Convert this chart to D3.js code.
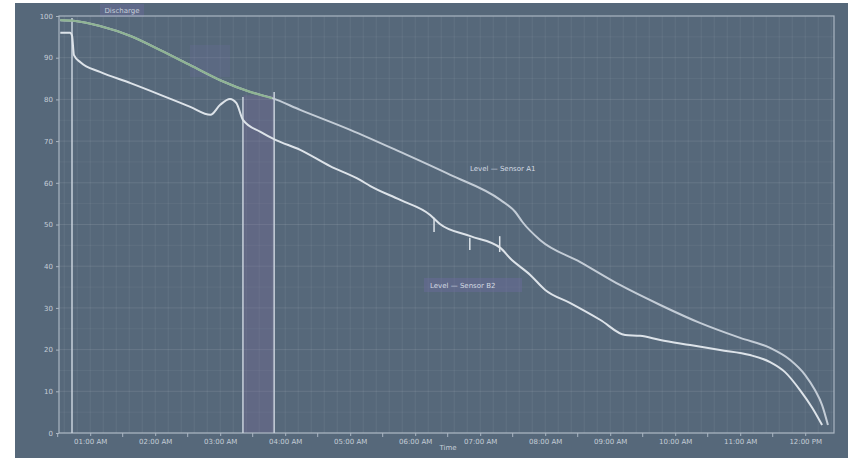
<!DOCTYPE html>
<html>
<head>
<meta charset="UTF-8" />
<script src="https://cdn.jsdelivr.net/npm/d3@7"></script>
<style>
  body { margin: 0; background: #fff; }
  text { font-family: "DejaVu Sans", sans-serif; }
</style>
</head>
<body>
<script>
    // time in hours, value in %
    let upperT = [0.54, 0.77, 1.15, 1.62, 2.08, 2.54, 3.00, 3.46, 3.80, 4.23, 5.00, 5.77, 6.54, 7.31, 7.54, 7.65, 7.92, 8.54, 9.15, 9.77, 10.38, 11.00, 11.46, 11.77, 12.00, 12.15, 12.26, 12.35];
    let upperV = [99.0, 98.8, 97.6, 95.2, 91.8, 88.2, 84.6, 81.8, 80.3, 77.5, 72.7, 67.4, 61.9, 55.9, 53.0, 50.6, 46.3, 41.0, 35.5, 30.7, 26.4, 22.8, 20.4, 17.5, 13.9, 10.3, 6.7, 1.9];
    let greenT = [0.54, 0.77, 1.15, 1.62, 2.08, 2.54, 3.00, 3.46, 3.80];
    let greenV = [99.0, 98.8, 97.6, 95.2, 91.8, 88.2, 84.6, 81.8, 80.3];
    let lowerT = [0.54, 0.69, 0.72, 0.75, 0.85, 1.15, 1.62, 2.08, 2.54, 2.85, 3.00, 3.15, 3.25, 3.35, 3.62, 3.85, 4.23, 4.69, 5.15, 5.31, 5.77, 6.23, 6.38, 6.85, 7.31, 7.46, 7.77, 8.00, 8.38, 8.85, 9.23, 9.46, 9.77, 10.23, 10.69, 11.15, 11.46, 11.69, 11.92, 12.11, 12.26];
    let lowerV = [96.0, 96.0, 95.3, 90.6, 88.9, 86.6, 83.9, 81.1, 78.2, 76.3, 78.7, 80.1, 79.1, 75.1, 72.2, 70.3, 67.9, 64.0, 60.7, 59.2, 55.9, 52.3, 50.1, 47.2, 44.4, 41.9, 37.9, 34.3, 31.2, 27.1, 23.5, 23.3, 22.3, 21.1, 19.9, 18.7, 17.0, 14.6, 10.3, 6.0, 1.9];
    let spikeT = [6.29, 6.84, 7.30];
    let spikeLo = [48.2, 43.9, 43.4];
    let spikeHi = [51.6, 46.8, 47.2];
    let markerT = [0.72, 3.35, 3.83];
    let markerTop = [99.5, 80.6, 81.8];
    let yTicks = [0, 10, 20, 30, 40, 50, 60, 70, 80, 90, 100];
    let xTicks = [1, 2, 3, 4, 5, 6, 7, 8, 9, 10, 11, 12];
    let xLabels = ["01:00 AM", "02:00 AM", "03:00 AM", "04:00 AM", "05:00 AM", "06:00 AM",
                   "07:00 AM", "08:00 AM", "09:00 AM", "10:00 AM", "11:00 AM", "12:00 PM"];

    let w = 856, h = 458;
    let mLeft = 59, mRight = 834, mTop = 16, mBottom = 433;

    let svg = d3.select("body").append("svg")
        .attr("width", w)
        .attr("height", h);

    // panel background
    svg.append("rect")
        .attr("x", 15).attr("y", 3)
        .attr("width", 833).attr("height", 455)
        .attr("fill", "#56687a");

    let x = d3.scaleLinear().domain([0.52, 12.443]).range([mLeft, mRight]);
    let y = d3.scaleLinear().domain([0, 100]).range([mBottom, mTop]);

    // fine grid
    let g = svg.append("g");
    g.selectAll(".vg")
        .data(d3.range(0.6, 12.44, 0.2))
        .enter().append("line")
        .attr("x1", d => x(d)).attr("x2", d => x(d))
        .attr("y1", mTop).attr("y2", mBottom)
        .attr("stroke", "#ffffff").attr("stroke-opacity", 0.07);
    g.selectAll(".hg")
        .data(d3.range(0, 100, 5))
        .enter().append("line")
        .attr("x1", mLeft).attr("x2", mRight)
        .attr("y1", d => y(d)).attr("y2", d => y(d))
        .attr("stroke", "#ffffff").attr("stroke-opacity", d => d % 10 == 0 ? 0.1 : 0.05);

    // annotation boxes
    svg.append("rect").attr("x", 100).attr("y", 4).attr("width", 44).attr("height", 13)
        .attr("fill", "#6a6a9c").attr("opacity", 0.45);
    svg.append("rect").attr("x", 190).attr("y", 45).attr("width", 40).attr("height", 32)
        .attr("fill", "#6a6a9c").attr("opacity", 0.25);
    svg.append("rect").attr("x", 424).attr("y", 278).attr("width", 98).attr("height", 14)
        .attr("fill", "#6a6a9c").attr("opacity", 0.45);

    // highlighted band
    svg.append("rect")
        .attr("x", x(markerT[1])).attr("y", y(81))
        .attr("width", x(markerT[2]) - x(markerT[1]))
        .attr("height", mBottom - y(81))
        .attr("fill", "#7a6a9a").attr("opacity", 0.3);

    // plot frame
    svg.append("rect")
        .attr("x", mLeft).attr("y", mTop)
        .attr("width", mRight - mLeft).attr("height", mBottom - mTop)
        .attr("fill", "none").attr("stroke", "#aab6c2").attr("stroke-width", 1.2);

    // axes
    svg.append("g")
        .attr("transform", `translate(${mLeft},0)`)
        .call(d3.axisLeft(y).tickValues(yTicks).tickSize(3));
    svg.append("g")
        .attr("transform", `translate(0,${mBottom})`)
        .call(d3.axisBottom(x).tickValues(xTicks).tickSize(3).tickFormat((d, i) => xLabels[i]));
    svg.selectAll(".domain").remove();
    svg.selectAll(".tick line").attr("stroke", "#aab6c2");
    svg.selectAll(".tick text").attr("fill", "#c5ced8").attr("font-size", 7);
    svg.selectAll(".minor")
        .data(d3.range(0.5, 12.44, 1))
        .enter().append("line")
        .attr("x1", d => x(d)).attr("x2", d => x(d))
        .attr("y1", mBottom).attr("y2", mBottom + 4)
        .attr("stroke", "#aab6c2");

    svg.append("text")
        .attr("x", 448).attr("y", 450)
        .attr("text-anchor", "middle")
        .attr("font-size", 7).attr("fill", "#c5ced8")
        .text("Time");

    // vertical markers
    svg.selectAll(".marker")
        .data(markerT)
        .enter().append("line")
        .attr("x1", d => x(d)).attr("x2", d => x(d))
        .attr("y1", (d, i) => y(markerTop[i])).attr("y2", mBottom)
        .attr("stroke", "#c9d2dc").attr("stroke-width", 1.5);

    let line = d3.line()
        .x(d => x(d[0]))
        .y(d => y(d[1]))
        .curve(d3.curveMonotoneX);

    svg.append("path")
        .datum(d3.zip(upperT, upperV))
        .attr("d", line)
        .attr("fill", "none")
        .attr("stroke", "#c3ccd6").attr("stroke-width", 2);
    svg.append("path")
        .datum(d3.zip(greenT, greenV))
        .attr("d", line)
        .attr("fill", "none")
        .attr("stroke", "#8fb493").attr("stroke-width", 2.2);
    svg.append("path")
        .datum(d3.zip(lowerT, lowerV))
        .attr("d", line)
        .attr("fill", "none")
        .attr("stroke", "#dde3e9").attr("stroke-width", 2);

    svg.selectAll(".spike")
        .data(spikeT)
        .enter().append("line")
        .attr("x1", d => x(d)).attr("x2", d => x(d))
        .attr("y1", (d, i) => y(spikeHi[i])).attr("y2", (d, i) => y(spikeLo[i]))
        .attr("stroke", "#dde3e9").attr("stroke-width", 1.5);

    // labels
    svg.append("text").attr("x", 470).attr("y", 171)
        .attr("font-size", 7).attr("fill", "#d3dae2")
        .text("Level — Sensor A1");
    svg.append("text").attr("x", 430).attr("y", 288)
        .attr("font-size", 7).attr("fill", "#d3dae2")
        .text("Level — Sensor B2");
    svg.append("text").attr("x", 122).attr("y", 13)
        .attr("text-anchor", "middle")
        .attr("font-size", 7).attr("fill", "#c5ced8")
        .text("Discharge");
</script>
</body>
</html>
